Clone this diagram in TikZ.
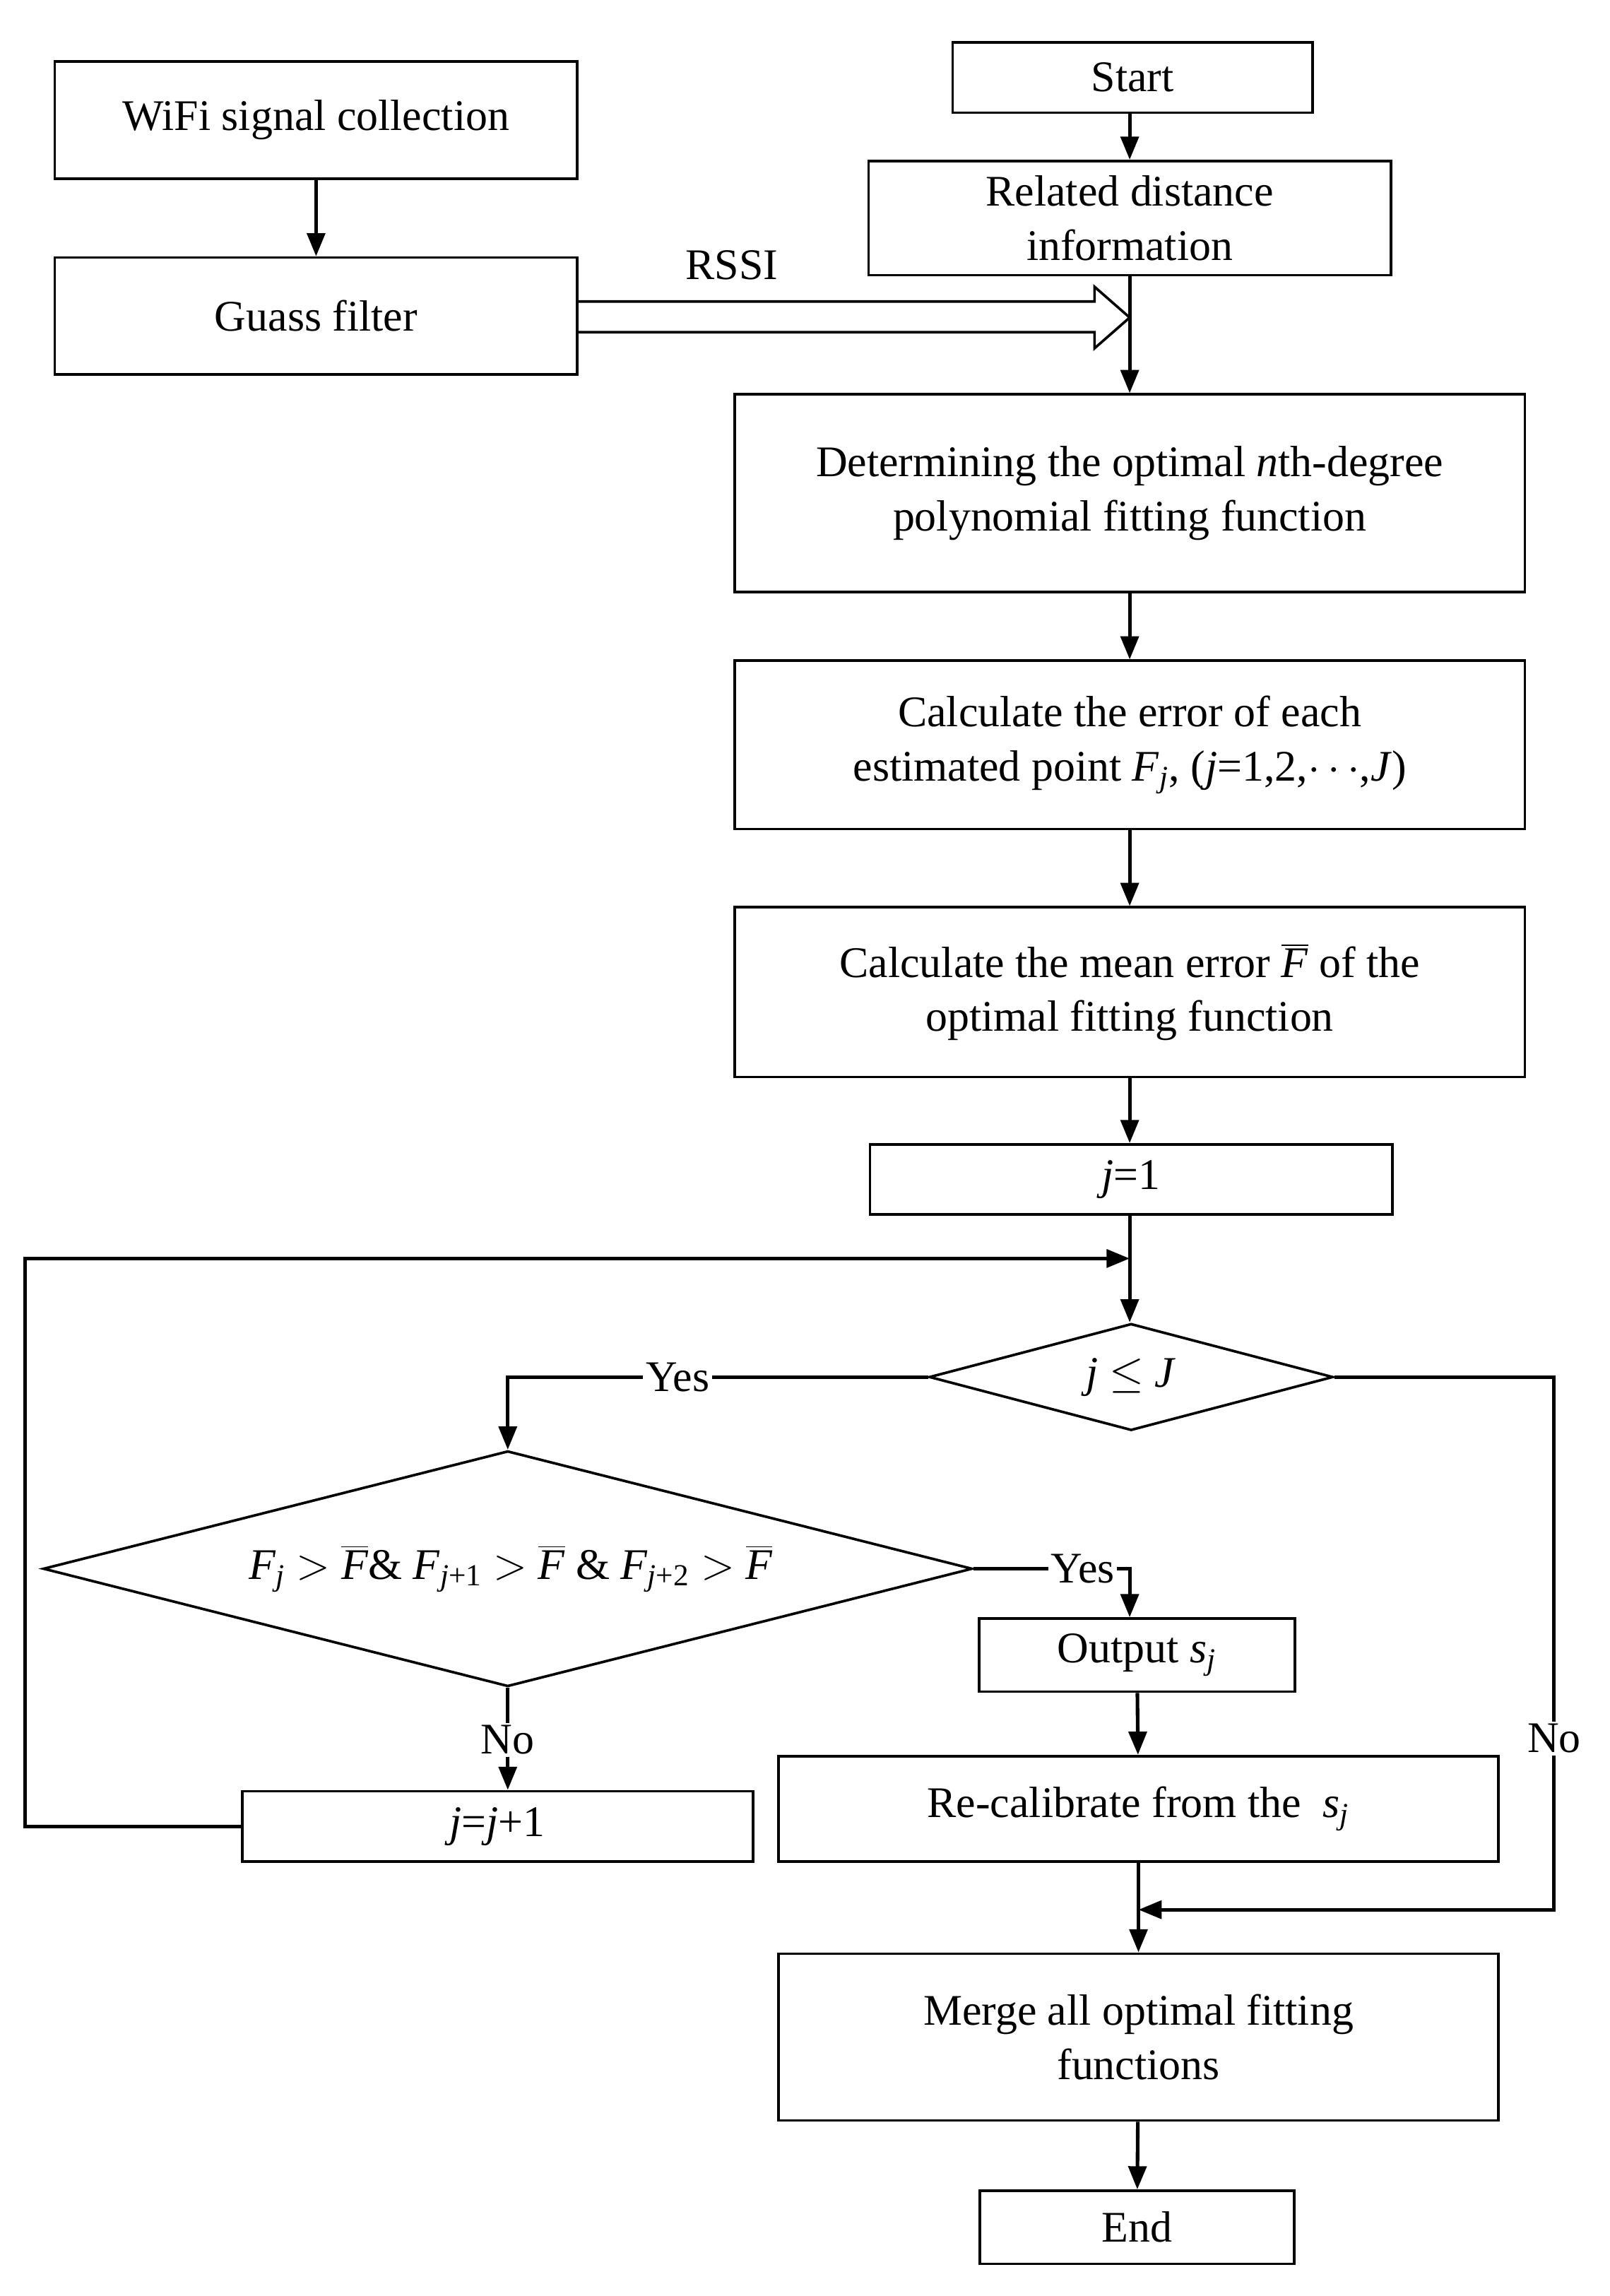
\documentclass[tikz,border=0pt]{standalone}
\usepackage{fontspec}
\setmainfont{Liberation Serif}
\usetikzlibrary{arrows.meta,shapes.geometric}
\newcommand{\Fbar}{\ensuremath{\overline{\mbox{\itshape F}}}}
\newcommand{\sub}[1]{\textsubscript{#1}}
\begin{document}
\begin{tikzpicture}[x=0.02cm,y=-0.02cm,
  box/.style={draw,line width=1pt,minimum height=0,align=center,font=\fontsize{17}{21}\selectfont,inner sep=0},
  ln/.style={line width=1.4pt},
  arr/.style={ln,-{Triangle[length=9pt,width=7pt]}},
  lab/.style={fill=white,inner sep=1pt,font=\fontsize{17}{21}\selectfont}]
\useasboundingbox (0,0) rectangle (1100,1569);
\node[box,minimum width=357*0.02cm,minimum height=80*0.02cm] (wifi) at (216,82) {WiFi signal collection};
\node[box,minimum width=357*0.02cm,minimum height=80*0.02cm] (gauss) at (216,216) {Guass filter};
\node[box,minimum width=246*0.02cm,minimum height=48*0.02cm] (start) at (774,53) {Start};
\node[box,minimum width=357*0.02cm,minimum height=78*0.02cm] (rel) at (772,149) {Related distance\\information};
\node[box,minimum width=540*0.02cm,minimum height=135*0.02cm] (det) at (772,337) {Determining the optimal \textit{n}th-degree\\polynomial fitting function};
\node[box,minimum width=540*0.02cm,minimum height=115*0.02cm] (err) at (772,509) {Calculate the error of each\\estimated point \textit{F}\sub{\itshape j}, (\textit{j}=1,2,$\cdots$,\textit{J})};
\node[box,minimum width=540*0.02cm,minimum height=116*0.02cm] (mean) at (772,678) {Calculate the mean error \Fbar\ of the\\optimal fitting function};
\node[box,minimum width=357*0.02cm,minimum height=48*0.02cm] (j1) at (773,806) {\textit{j}=1};
\node[box,diamond,aspect=3.8,minimum width=276*0.02cm,minimum height=73*0.02cm,inner sep=0] (d1) at (773,941) {};
\node[font=\fontsize{17}{21}\selectfont] at (773,941) {\textit{j} $\le$ \textit{J}};
\node[box,diamond,aspect=3.95,minimum width=635*0.02cm,minimum height=161*0.02cm,inner sep=0] (d2) at (347,1072) {};
\node[font=\fontsize{17}{21}\selectfont] at (349,1072) {\textit{F}\sub{\itshape j} $>$ \Fbar\& \textit{F}\sub{\itshape j\upshape+1} $>$ \Fbar\ \& \textit{F}\sub{\itshape j\upshape+2} $>$ \Fbar};
\node[box,minimum width=216*0.02cm,minimum height=50*0.02cm] (out) at (777,1131) {Output \textit{s}\sub{\itshape j}};
\node[box,minimum width=492*0.02cm,minimum height=72*0.02cm] (rec) at (778,1236) {Re-calibrate from the~ \textit{s}\sub{\itshape j}};
\node[box,minimum width=349*0.02cm,minimum height=48*0.02cm] (jj) at (340,1248) {\textit{j}=\textit{j}+1};
\node[box,minimum width=492*0.02cm,minimum height=114*0.02cm] (merge) at (778,1392) {Merge all optimal fitting\\functions};
\node[box,minimum width=215*0.02cm,minimum height=50*0.02cm] (end) at (777,1522) {End};
\draw[arr] (wifi) -- (gauss);
\draw[arr] (start.south -| 772,0) -- (rel.north -| 772,0);
\draw[arr] (rel.south -| 772,0) -- (det.north -| 772,0);
\draw[line width=1pt] (gauss.east |- 0,206) -- (748,206) -- (748,196) -- (772,217) -- (748,238) -- (748,227) -- (gauss.east |- 0,227);
\node[font=\fontsize{17}{21}\selectfont] (rssi) at (500,181) {RSSI};
\draw[arr] (det.south -| 772,0) -- (err.north -| 772,0);
\draw[arr] (err.south -| 772,0) -- (mean.north -| 772,0);
\draw[arr] (mean.south -| 772,0) -- (j1.north -| 772,0);
\draw[arr] (j1.south -| 772,0) -- (d1.north -| 772,0);
\coordinate (lp) at (772,860);
\draw[arr] (jj.west) -- (17,1248) -- (17,860) -- (lp);
\draw[arr] (d1.west) -- (347,941) -- (d2.north);
\node[lab] at (463,941) {Yes};
\draw[arr] (d1.east) -- (1062,941) -- (1062,1305) -- (778,1305);
\node[lab] at (1062,1188) {No};
\draw[arr] (d2.east) -- (772,1072) -- (out.north -| 772,0);
\node[lab] at (740,1072) {Yes};
\draw[arr] (d2.south) -- (jj.north -| d2.south);
\node[lab] at (347,1189) {No};
\draw[arr] (out) -- (rec);
\draw[arr] (rec) -- (merge);
\draw[arr] (merge) -- (end);
\end{tikzpicture}
\end{document}
